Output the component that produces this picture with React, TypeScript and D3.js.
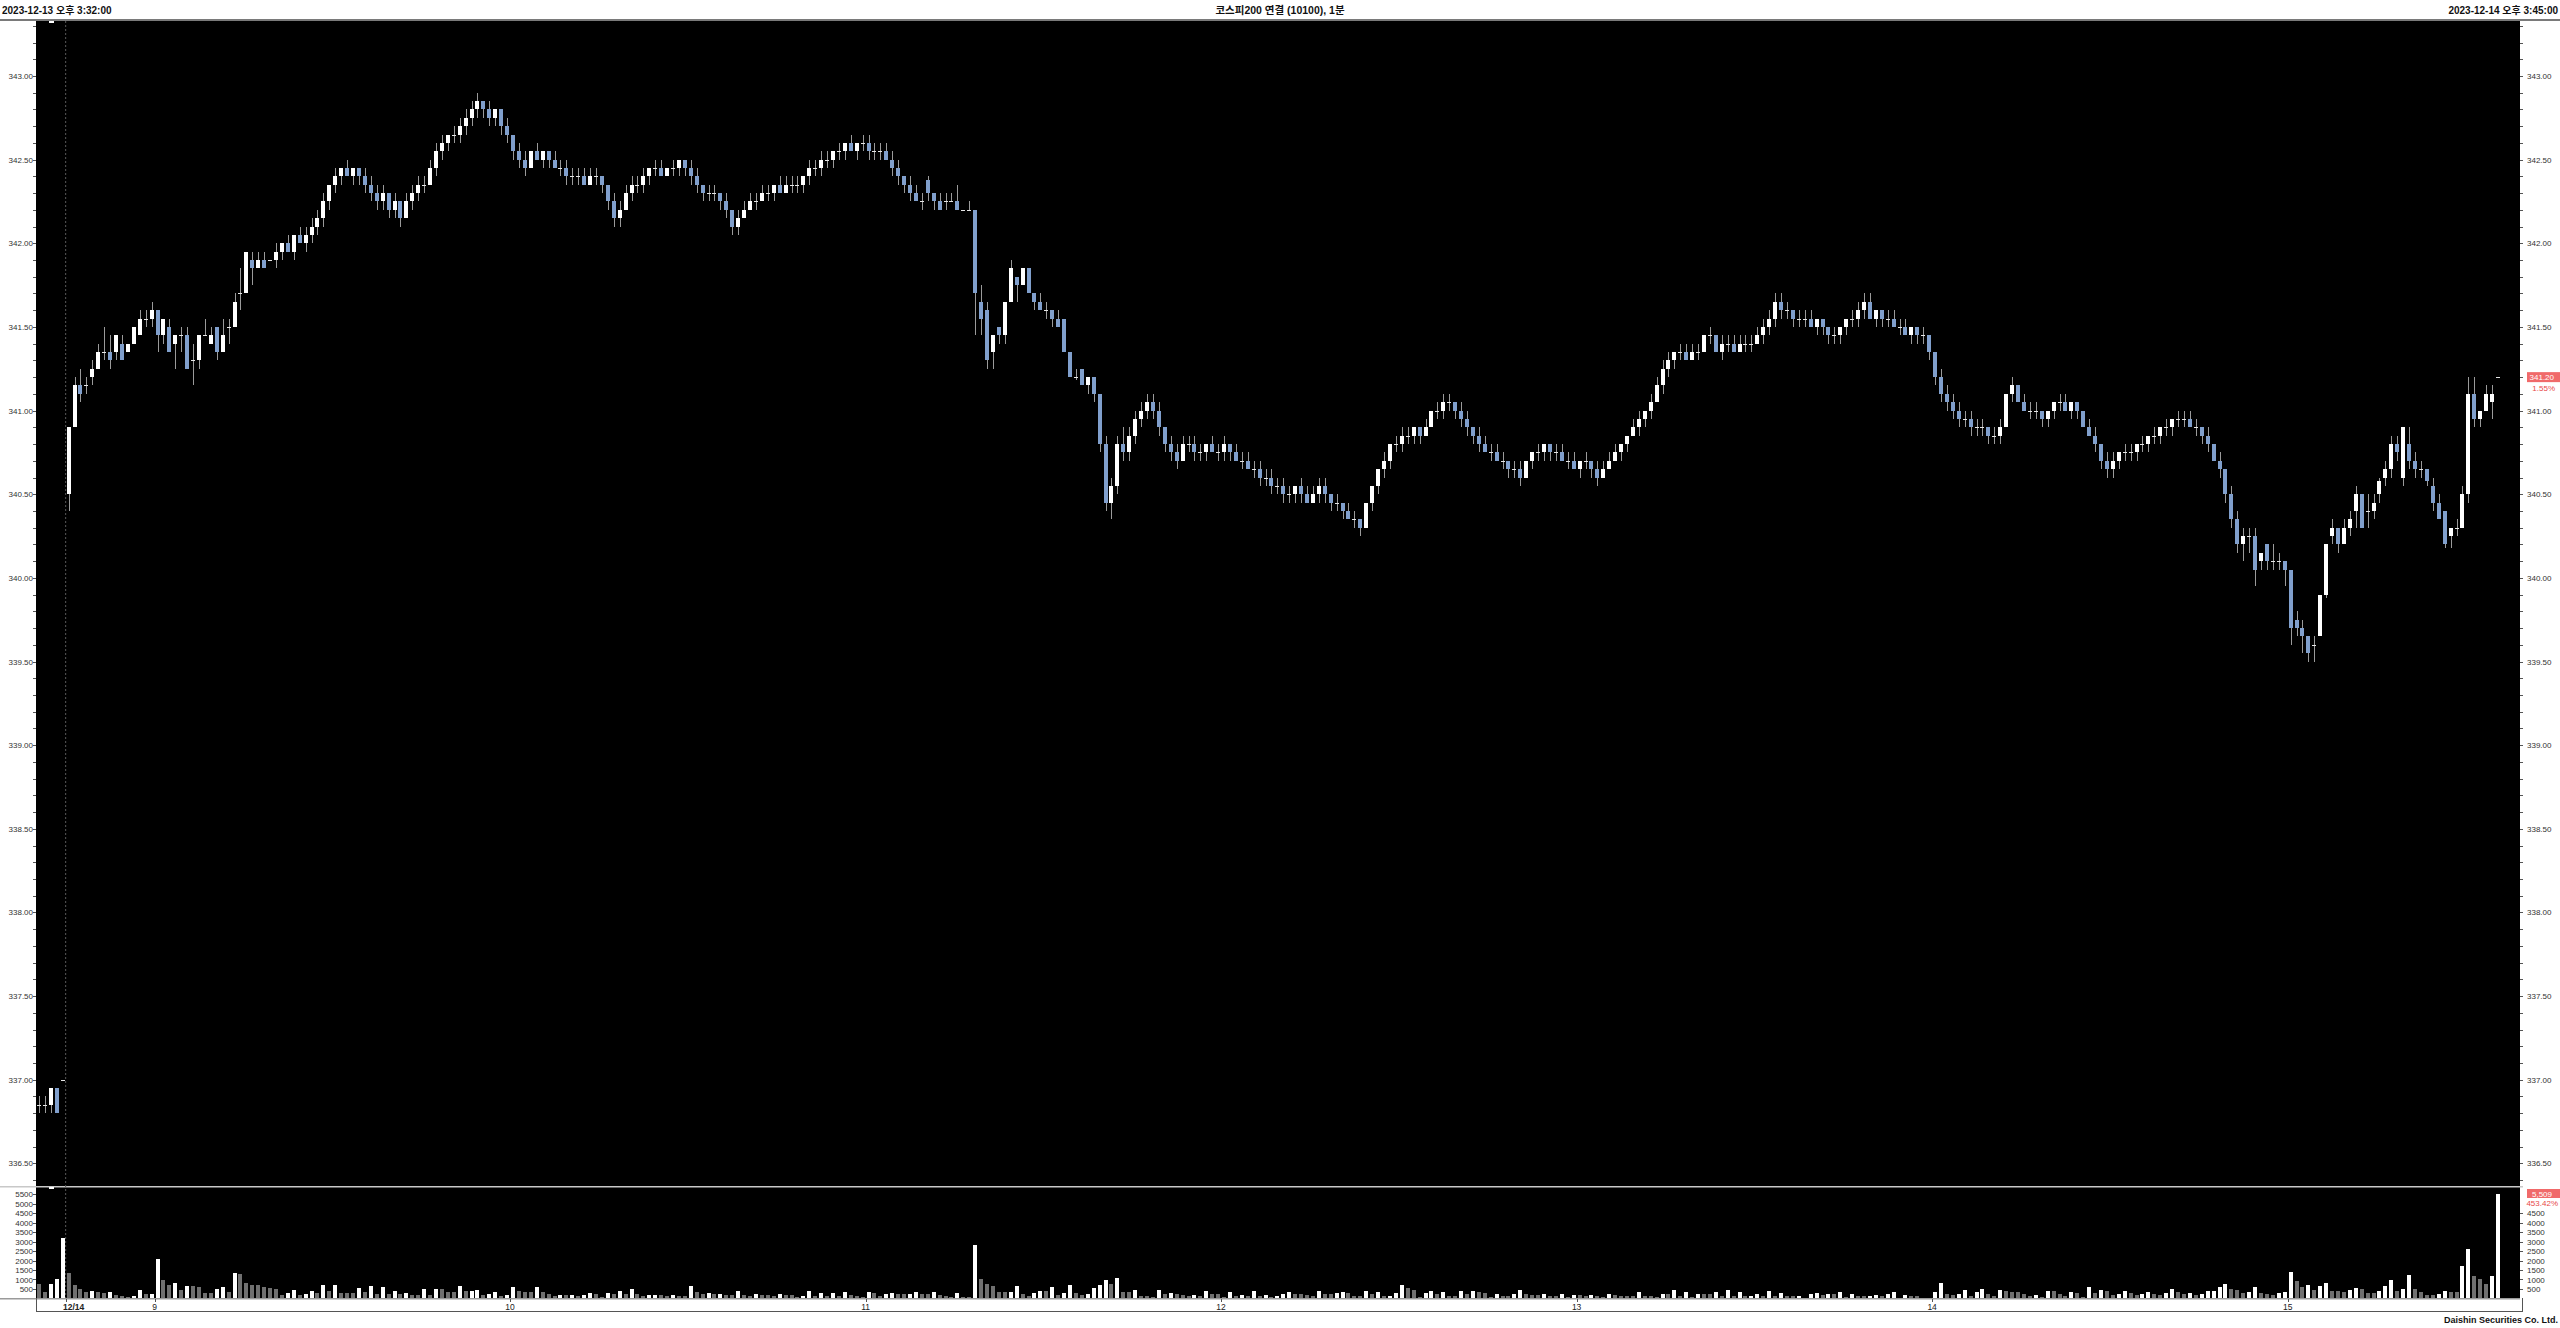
import React from 'react';
import * as d3 from 'd3';

// [open, high, low, close] per 1-minute bar
const candles: number[][] = [
  [336.85,336.90,336.80,336.85],[336.85,336.90,336.80,336.85],[336.85,336.95,336.80,336.95],[336.95,336.95,336.80,336.80],[337.00,337.00,337.00,337.00],
  [340.50,340.90,340.40,340.90],[340.90,341.20,340.90,341.15],[341.15,341.25,341.05,341.10],[341.15,341.20,341.10,341.15],[341.20,341.30,341.15,341.25],
  [341.25,341.40,341.25,341.35],[341.35,341.50,341.30,341.35],[341.35,341.45,341.25,341.30],[341.35,341.45,341.30,341.45],[341.40,341.45,341.30,341.30],
  [341.35,341.40,341.35,341.40],[341.40,341.50,341.40,341.50],[341.45,341.60,341.45,341.55],[341.55,341.60,341.50,341.55],[341.55,341.65,341.50,341.60],
  [341.60,341.60,341.35,341.45],[341.45,341.55,341.40,341.55],[341.50,341.55,341.35,341.35],[341.40,341.45,341.25,341.45],[341.45,341.50,341.35,341.45],
  [341.45,341.50,341.25,341.25],[341.30,341.40,341.15,341.30],[341.30,341.45,341.25,341.45],[341.45,341.55,341.45,341.45],[341.40,341.50,341.40,341.45],
  [341.50,341.50,341.30,341.35],[341.35,341.55,341.35,341.45],[341.50,341.55,341.40,341.50],[341.50,341.70,341.50,341.65],[341.70,341.85,341.60,341.70],
  [341.70,341.95,341.70,341.95],[341.90,341.95,341.75,341.85],[341.85,341.95,341.85,341.90],[341.90,341.95,341.85,341.85],[341.90,341.90,341.90,341.90],
  [341.90,342.00,341.85,341.95],[341.95,342.00,341.90,342.00],[342.00,342.05,341.95,341.95],[341.95,342.05,341.90,342.05],[342.05,342.10,342.00,342.00],
  [342.00,342.10,341.95,342.05],[342.05,342.15,342.00,342.10],[342.10,342.20,342.05,342.15],[342.15,342.30,342.10,342.25],[342.25,342.35,342.20,342.35],
  [342.35,342.45,342.30,342.40],[342.40,342.45,342.35,342.45],[342.45,342.50,342.40,342.40],[342.40,342.45,342.35,342.45],[342.45,342.45,342.35,342.40],
  [342.40,342.45,342.30,342.35],[342.35,342.40,342.25,342.30],[342.30,342.35,342.20,342.25],[342.25,342.35,342.20,342.30],[342.30,342.30,342.15,342.20],
  [342.20,342.30,342.15,342.25],[342.25,342.25,342.10,342.15],[342.15,342.30,342.15,342.25],[342.25,342.35,342.20,342.30],[342.30,342.40,342.25,342.35],
  [342.35,342.40,342.30,342.35],[342.35,342.50,342.35,342.45],[342.45,342.60,342.40,342.55],[342.55,342.65,342.50,342.60],[342.60,342.65,342.55,342.65],
  [342.65,342.70,342.60,342.65],[342.65,342.75,342.60,342.70],[342.70,342.80,342.65,342.75],[342.75,342.85,342.70,342.80],[342.80,342.90,342.75,342.85],
  [342.85,342.85,342.75,342.80],[342.80,342.85,342.70,342.75],[342.75,342.80,342.70,342.80],[342.80,342.80,342.65,342.70],[342.70,342.75,342.60,342.65],
  [342.65,342.65,342.50,342.55],[342.55,342.60,342.45,342.50],[342.50,342.55,342.40,342.45],[342.45,342.55,342.45,342.55],[342.55,342.60,342.50,342.50],
  [342.50,342.55,342.45,342.55],[342.55,342.55,342.45,342.50],[342.50,342.55,342.45,342.45],[342.45,342.50,342.40,342.45],[342.45,342.50,342.35,342.40],
  [342.40,342.45,342.35,342.40],[342.40,342.45,342.35,342.40],[342.40,342.45,342.35,342.35],[342.35,342.45,342.35,342.40],[342.40,342.45,342.35,342.40],
  [342.40,342.40,342.30,342.35],[342.35,342.35,342.20,342.25],[342.25,342.30,342.10,342.15],[342.15,342.25,342.10,342.20],[342.20,342.35,342.20,342.30],
  [342.30,342.40,342.25,342.35],[342.35,342.40,342.30,342.35],[342.35,342.45,342.30,342.40],[342.40,342.45,342.35,342.45],[342.45,342.50,342.40,342.45],
  [342.45,342.50,342.40,342.40],[342.40,342.45,342.40,342.45],[342.45,342.50,342.40,342.45],[342.45,342.50,342.40,342.50],[342.50,342.50,342.40,342.45],
  [342.45,342.50,342.35,342.40],[342.40,342.45,342.30,342.35],[342.35,342.35,342.25,342.30],[342.30,342.35,342.25,342.30],[342.30,342.35,342.25,342.30],
  [342.30,342.30,342.20,342.25],[342.25,342.30,342.15,342.20],[342.20,342.20,342.05,342.10],[342.10,342.20,342.05,342.15],[342.15,342.25,342.15,342.20],
  [342.20,342.30,342.20,342.25],[342.25,342.30,342.20,342.25],[342.25,342.35,342.25,342.30],[342.30,342.35,342.25,342.30],[342.30,342.35,342.25,342.35],
  [342.35,342.40,342.30,342.30],[342.30,342.40,342.30,342.35],[342.35,342.40,342.30,342.35],[342.35,342.40,342.30,342.35],[342.35,342.40,342.30,342.40],
  [342.40,342.50,342.35,342.45],[342.45,342.50,342.40,342.45],[342.45,342.55,342.40,342.50],[342.50,342.55,342.45,342.50],[342.50,342.55,342.45,342.55],
  [342.55,342.60,342.50,342.55],[342.55,342.60,342.50,342.60],[342.60,342.65,342.55,342.55],[342.55,342.60,342.50,342.60],[342.60,342.65,342.55,342.60],
  [342.60,342.65,342.50,342.55],[342.55,342.60,342.50,342.55],[342.55,342.60,342.50,342.55],[342.55,342.60,342.50,342.50],[342.50,342.55,342.40,342.45],
  [342.45,342.50,342.35,342.40],[342.40,342.40,342.30,342.35],[342.35,342.40,342.25,342.30],[342.30,342.35,342.25,342.25],[342.25,342.30,342.20,342.25],
  [342.38,342.40,342.25,342.30],[342.30,342.30,342.20,342.25],[342.25,342.30,342.20,342.20],[342.25,342.30,342.20,342.25],[342.25,342.30,342.25,342.25],
  [342.25,342.35,342.20,342.20],[342.20,342.20,342.20,342.20],[342.20,342.25,342.20,342.20],[342.20,342.20,341.45,341.70],[341.65,341.75,341.45,341.55],
  [341.60,341.65,341.25,341.30],[341.35,341.45,341.25,341.45],[341.50,341.50,341.40,341.45],[341.45,341.65,341.40,341.65],[341.65,341.90,341.65,341.85],
  [341.80,341.80,341.65,341.75],[341.75,341.85,341.75,341.85],[341.85,341.85,341.70,341.70],[341.70,341.70,341.60,341.65],[341.65,341.70,341.60,341.60],
  [341.60,341.65,341.55,341.60],[341.60,341.60,341.50,341.55],[341.55,341.60,341.50,341.50],[341.55,341.55,341.35,341.35],[341.35,341.35,341.20,341.20],
  [341.20,341.25,341.18,341.20],[341.25,341.25,341.15,341.15],[341.15,341.20,341.10,341.20],[341.20,341.20,341.05,341.10],[341.10,341.10,340.75,340.80],
  [340.80,340.85,340.40,340.45],[340.45,340.60,340.35,340.55],[340.55,340.85,340.50,340.80],[340.80,340.90,340.70,340.75],[340.75,340.90,340.70,340.85],
  [340.85,341.00,340.80,340.95],[340.95,341.05,340.90,341.00],[341.00,341.10,340.95,341.05],[341.05,341.10,340.95,341.00],[341.00,341.05,340.85,340.90],
  [340.90,340.90,340.75,340.80],[340.80,340.85,340.70,340.75],[340.75,340.80,340.65,340.70],[340.70,340.85,340.70,340.80],[340.80,340.85,340.75,340.80],
  [340.80,340.85,340.70,340.75],[340.75,340.80,340.70,340.75],[340.75,340.80,340.70,340.80],[340.80,340.85,340.75,340.75],[340.75,340.80,340.70,340.75],
  [340.75,340.85,340.70,340.80],[340.80,340.80,340.70,340.75],[340.75,340.80,340.70,340.70],[340.70,340.75,340.65,340.70],[340.70,340.75,340.65,340.65],
  [340.65,340.70,340.60,340.65],[340.65,340.70,340.55,340.60],[340.60,340.65,340.55,340.60],[340.60,340.65,340.50,340.55],[340.55,340.60,340.50,340.55],
  [340.55,340.60,340.45,340.50],[340.50,340.55,340.45,340.50],[340.50,340.55,340.45,340.55],[340.55,340.60,340.45,340.50],[340.50,340.55,340.45,340.45],
  [340.45,340.55,340.45,340.50],[340.50,340.60,340.45,340.55],[340.55,340.60,340.45,340.50],[340.50,340.50,340.40,340.45],[340.45,340.50,340.40,340.45],
  [340.45,340.45,340.35,340.40],[340.40,340.45,340.35,340.35],[340.35,340.40,340.30,340.35],[340.35,340.35,340.25,340.30],[340.30,340.45,340.30,340.45],
  [340.45,340.55,340.40,340.55],[340.55,340.65,340.50,340.65],[340.65,340.75,340.60,340.70],[340.70,340.80,340.65,340.80],[340.80,340.85,340.75,340.80],
  [340.80,340.90,340.75,340.85],[340.85,340.90,340.80,340.85],[340.85,340.90,340.80,340.90],[340.90,340.90,340.80,340.85],[340.85,340.95,340.85,340.90],
  [340.90,341.00,340.90,341.00],[341.00,341.05,340.95,341.00],[341.00,341.10,340.95,341.05],[341.05,341.10,341.00,341.05],[341.05,341.05,340.95,341.00],
  [341.00,341.05,340.90,340.95],[340.95,341.00,340.85,340.90],[340.90,340.90,340.80,340.85],[340.85,340.90,340.75,340.80],[340.80,340.85,340.75,340.75],
  [340.75,340.80,340.70,340.75],[340.75,340.80,340.70,340.70],[340.70,340.75,340.65,340.70],[340.70,340.70,340.60,340.65],[340.65,340.70,340.60,340.65],
  [340.65,340.70,340.55,340.60],[340.60,340.70,340.60,340.70],[340.70,340.75,340.65,340.75],[340.75,340.80,340.70,340.75],[340.75,340.80,340.70,340.80],
  [340.80,340.80,340.70,340.75],[340.75,340.80,340.70,340.75],[340.75,340.80,340.70,340.70],[340.70,340.75,340.65,340.70],[340.70,340.75,340.65,340.65],
  [340.65,340.70,340.60,340.70],[340.70,340.75,340.65,340.70],[340.70,340.70,340.60,340.65],[340.65,340.70,340.55,340.60],[340.60,340.70,340.60,340.65],
  [340.65,340.75,340.65,340.70],[340.70,340.80,340.70,340.75],[340.75,340.80,340.70,340.80],[340.80,340.85,340.75,340.85],[340.85,340.95,340.85,340.90],
  [340.90,341.00,340.85,340.95],[340.95,341.00,340.90,341.00],[341.00,341.10,340.95,341.05],[341.05,341.20,341.05,341.15],[341.15,341.30,341.10,341.25],
  [341.25,341.35,341.20,341.30],[341.30,341.35,341.25,341.35],[341.35,341.40,341.30,341.35],[341.35,341.40,341.30,341.30],[341.30,341.40,341.30,341.35],
  [341.35,341.40,341.30,341.35],[341.35,341.45,341.35,341.45],[341.45,341.50,341.40,341.45],[341.45,341.45,341.35,341.35],[341.35,341.45,341.30,341.40],
  [341.40,341.45,341.35,341.40],[341.40,341.45,341.35,341.35],[341.35,341.45,341.35,341.40],[341.40,341.45,341.35,341.40],[341.40,341.45,341.35,341.40],
  [341.40,341.50,341.40,341.45],[341.45,341.55,341.40,341.50],[341.50,341.60,341.45,341.55],[341.55,341.70,341.50,341.65],[341.65,341.70,341.55,341.60],
  [341.60,341.65,341.55,341.60],[341.60,341.60,341.50,341.55],[341.55,341.60,341.50,341.55],[341.55,341.60,341.50,341.55],[341.55,341.60,341.50,341.50],
  [341.50,341.55,341.45,341.55],[341.55,341.55,341.45,341.50],[341.50,341.50,341.40,341.45],[341.45,341.50,341.40,341.45],[341.45,341.50,341.40,341.50],
  [341.50,341.55,341.45,341.55],[341.55,341.60,341.50,341.55],[341.55,341.65,341.50,341.60],[341.60,341.70,341.55,341.65],[341.65,341.70,341.55,341.55],
  [341.55,341.60,341.50,341.60],[341.60,341.60,341.50,341.55],[341.55,341.60,341.50,341.55],[341.55,341.60,341.50,341.50],[341.50,341.55,341.45,341.50],
  [341.50,341.55,341.45,341.45],[341.45,341.50,341.40,341.50],[341.50,341.50,341.40,341.45],[341.45,341.50,341.40,341.45],[341.45,341.45,341.30,341.35],
  [341.35,341.35,341.15,341.20],[341.20,341.25,341.05,341.10],[341.10,341.15,341.00,341.05],[341.05,341.10,340.95,341.00],[341.00,341.05,340.90,340.95],
  [340.95,341.00,340.90,340.95],[340.95,341.00,340.85,340.90],[340.90,340.95,340.85,340.90],[340.90,340.95,340.85,340.90],[340.90,340.90,340.80,340.85],
  [340.85,340.90,340.80,340.85],[340.85,340.95,340.80,340.90],[340.90,341.10,340.90,341.10],[341.10,341.20,341.05,341.15],[341.15,341.15,341.05,341.05],
  [341.05,341.10,341.00,341.00],[341.00,341.05,340.95,341.00],[341.00,341.05,340.95,341.00],[341.00,341.00,340.90,340.95],[340.95,341.00,340.90,341.00],
  [341.00,341.05,340.95,341.05],[341.05,341.10,341.00,341.05],[341.05,341.10,341.00,341.00],[341.00,341.05,340.95,341.05],[341.05,341.05,340.95,341.00],
  [341.00,341.00,340.90,340.90],[340.90,340.95,340.85,340.85],[340.85,340.90,340.75,340.80],[340.80,340.80,340.65,340.70],[340.70,340.75,340.60,340.65],
  [340.65,340.75,340.60,340.70],[340.70,340.75,340.65,340.75],[340.75,340.80,340.70,340.75],[340.75,340.80,340.70,340.75],[340.75,340.80,340.70,340.80],
  [340.80,340.85,340.75,340.80],[340.80,340.85,340.75,340.85],[340.85,340.90,340.80,340.85],[340.85,340.90,340.80,340.90],[340.90,340.95,340.85,340.90],
  [340.90,340.95,340.85,340.95],[340.95,341.00,340.90,340.95],[340.95,341.00,340.90,340.95],[340.95,341.00,340.90,340.90],[340.90,340.95,340.85,340.90],
  [340.90,340.90,340.80,340.85],[340.85,340.90,340.75,340.80],[340.80,340.80,340.70,340.70],[340.70,340.75,340.60,340.65],[340.65,340.65,340.45,340.50],
  [340.50,340.55,340.30,340.35],[340.35,340.40,340.15,340.20],[340.20,340.30,340.10,340.25],[340.25,340.30,340.15,340.25],[340.25,340.30,339.95,340.05],
  [340.10,340.15,340.05,340.15],[340.20,340.20,340.05,340.10],[340.10,340.20,340.05,340.10],[340.10,340.15,340.05,340.10],[340.10,340.10,339.95,340.05],
  [340.05,340.05,339.60,339.70],[339.75,339.80,339.65,339.70],[339.70,339.75,339.55,339.65],[339.65,339.65,339.50,339.55],[339.60,339.65,339.50,339.60],
  [339.65,339.90,339.65,339.90],[339.90,340.20,339.88,340.20],[340.25,340.35,340.20,340.30],[340.30,340.30,340.15,340.20],[340.20,340.35,340.20,340.30],
  [340.30,340.40,340.25,340.35],[340.40,340.55,340.30,340.50],[340.50,340.50,340.30,340.30],[340.40,340.50,340.30,340.40],[340.40,340.50,340.35,340.45],
  [340.50,340.60,340.45,340.58],[340.60,340.70,340.55,340.65],[340.65,340.85,340.60,340.80],[340.80,340.85,340.70,340.75],[340.60,340.90,340.55,340.90],
  [340.80,340.90,340.65,340.70],[340.70,340.75,340.60,340.65],[340.65,340.70,340.60,340.65],[340.65,340.65,340.55,340.58],[340.55,340.60,340.40,340.45],
  [340.45,340.50,340.35,340.35],[340.40,340.40,340.18,340.20],[340.25,340.30,340.18,340.30],[340.30,340.35,340.25,340.30],[340.30,340.55,340.30,340.50],
  [340.50,341.20,340.45,341.10],[341.10,341.20,340.90,340.95],[340.95,341.00,340.90,341.00],[341.00,341.15,341.00,341.10],[341.05,341.15,340.95,341.10],
  [341.20,341.20,341.20,341.20],
];

const volumes: number[] = [
  760,350,760,1050,3180,1330,700,500,350,400,330,290,330,170,120,100,130,430,240,260,
  2080,950,730,800,430,650,650,630,280,280,480,630,350,1340,1300,820,
  720,690,580,540,500,200,300,440,180,230,380,300,720,380,720,300,300,300,570,350,640,230,620,230,420,230,280,170,170,500,200,500,500,360,360,680,380,420,450,200,250,350,150,190,580,420,320,320,580,320,240,110,200,200,210,120,
  175,315,245,90,315,245,420,230,525,230,140,175,210,175,120,190,140,120,650,350,245,280,230,245,175,175,400,190,140,245,190,190,120,245,190,175,90,140,420,140,280,140,280,120,350,175,140,90,350,280,120,245,280,245,245,260,350,245,245,350,190,120,90,315,90,90,
  2825,1020,755,665,350,333,350,650,230,120,300,420,420,600,190,300,720,300,210,230,560,720,980,770,1090,333,333,440,120,120,90,455,245,300,230,175,140,190,140,400,245,245,105,333,120,175,140,400,120,190,90,140,245,350,245,245,190,140,400,245,245,315,
  350,280,140,140,420,245,333,120,140,280,685,545,455,90,280,420,245,333,140,140,400,245,400,350,315,90,230,120,120,230,455,245,190,190,245,140,140,230,90,175,175,140,190,120,90,230,190,140,140,140,350,140,120,90,245,245,455,140,333,90,230,230,230,350,120,440,120,350,120,140,230,140,400,120,300,120,120,140,50,230,300,210,245,245,350,70,245,120,120,140,190,140,245,350,50,190,120,120,50,35,350,805,245,190,245,455,120,333,510,245,120,455,400,333,333,245,120,190,90,400,400,245,140,333,300,90,630,
  300,450,380,200,250,420,300,180,220,350,260,200,300,480,350,220,300,180,250,380,420,600,750,520,450,300,350,620,300,250,200,280,350,1400,900,620,700,450,650,800,420,380,350,450,550,500,300,280,400,650,1000,420,
  510,1245,475,333,210,193,263,370,333,333,1700,2615,1160,1020,755,1210,5509,
];

const priceTicks = [336.5, 337, 337.5, 338, 338.5, 339, 339.5, 340, 340.5, 341, 341.5, 342, 342.5, 343];
const volumeTicks = [500, 1000, 1500, 2000, 2500, 3000, 3500, 4000, 4500, 5000, 5500];
const volumeTicksRight = [500, 1000, 1500, 2000, 2500, 3000, 3500, 4000, 4500];
const timeLabels = ['12/14', '9', '10', '11', '12', '13', '14', '15'];
const timeLabelIdx = [5, 20, 80, 140, 200, 260, 320, 380];
const headerLeft = '2023-12-13 오후 3:32:00';
const headerTitle = '코스피200 연결 (10100), 1분';
const headerRight = '2023-12-14 오후 3:45:00';
const lastPrice = '341.20';
const lastPct = '1.55%';
const lastVol = '5,509';
const lastVolPct = '453.42%';

const PL = 36, PR = 2520, PT = 20, PB = 1186, VB = 1298;
const UP = '#ffffff', DOWN = '#809fcc', WICK = '#9a9a9a', VGRAY = '#707070';
const FONT = '"Liberation Sans", Arial, "Noto Sans CJK KR", sans-serif';

export default function App() {
  const x = d3.scaleLinear().domain([0, candles.length - 1]).range([39, 2498]);
  const y = d3.scaleLinear().domain([336.5, 343]).range([1163.4, 76]);
  const yv = d3.scaleLinear().domain([0, 5500]).range([1298.5, 1194]);
  const minorTicks = d3.range(3364, 3434).map((v) => v / 10).filter((v) => y(v) > PT + 1 && y(v) < PB - 1);
  const boundary = (i: number) => (x(i) + x(i - 1)) / 2;

  return (
    <svg width={2560} height={1328} style={{ position: 'absolute', left: 0, top: 0, background: '#fff' }} fontFamily={FONT}>
      <rect x={0} y={0} width={2560} height={1328} fill="#fff" />
      {/* header */}
      <text x={2} y={14} fontSize={10} fontWeight="bold" fill="#111">{headerLeft}</text>
      <text x={1280} y={14} fontSize={10.5} fontWeight="bold" fill="#111" textAnchor="middle">{headerTitle}</text>
      <text x={2558} y={14} fontSize={10} fontWeight="bold" fill="#111" textAnchor="end">{headerRight}</text>
      <rect x={0} y={19} width={2560} height={2} fill="#7a7a7a" />
      {/* plot background */}
      <rect x={PL} y={21} width={PR - PL} height={VB - 21} fill="#000" />
      {/* divider */}
      <rect x={0} y={PB} width={PR + 3} height={1.5} fill="#c8c8c8" />
      {/* 12/14 day separator */}
      <line x1={boundary(5)} x2={boundary(5)} y1={21} y2={VB} stroke="#5a5a5a" strokeDasharray="2,2" />

      {/* left price axis */}
      {minorTicks.map((v, i) => (
        <g key={'mt' + i}>
          <line x1={PL - 3} x2={PL} y1={Math.round(y(v)) + 0.5} y2={Math.round(y(v)) + 0.5} stroke="#555" />
          <line x1={PR} x2={PR + 3} y1={Math.round(y(v)) + 0.5} y2={Math.round(y(v)) + 0.5} stroke="#555" />
        </g>
      ))}
      {priceTicks.map((v) => (
        <g key={'pt' + v}>
          <text x={PL - 3} y={y(v) + 3} fontSize={8} fill="#333" textAnchor="end">{v.toFixed(2)}</text>
          {v.toFixed(2) !== lastPrice && (
            <text x={PR + 7} y={y(v) + 3} fontSize={8} fill="#333">{v.toFixed(2)}</text>
          )}
        </g>
      ))}

      {/* volume axis */}
      {volumeTicks.map((v) => (
        <g key={'vt' + v}>
          <line x1={PL - 3} x2={PL} y1={Math.round(yv(v)) + 0.5} y2={Math.round(yv(v)) + 0.5} stroke="#555" />
          <text x={PL - 3} y={yv(v) + 3} fontSize={8} fill="#333" textAnchor="end">{v}</text>
        </g>
      ))}
      {volumeTicksRight.map((v) => (
        <g key={'vr' + v}>
          <line x1={PR} x2={PR + 3} y1={Math.round(yv(v)) + 0.5} y2={Math.round(yv(v)) + 0.5} stroke="#555" />
          <text x={PR + 7} y={yv(v) + 3} fontSize={8} fill="#333">{v}</text>
        </g>
      ))}

      {/* volume bars */}
      <g shapeRendering="crispEdges">
        {volumes.map((v, i) => {
          const cx = Math.round(x(i));
          const top = yv(v);
          const up = i > 0 && v > volumes[i - 1];
          return <rect key={'v' + i} x={cx - 2} y={top} width={4} height={yv(0) - top} fill={up ? UP : VGRAY} />;
        })}
      </g>

      {/* candles */}
      <g shapeRendering="crispEdges">
        {candles.map((c, i) => {
          const [o, h, l, cl] = c;
          const cx = Math.round(x(i));
          const yo = y(o), yc = y(cl), yh = y(h), yl = y(l);
          const top = Math.min(yo, yc), bot = Math.max(yo, yc);
          const doji = Math.abs(o - cl) < 1e-6;
          return (
            <g key={'c' + i}>
              {h > l && <rect x={cx} y={yh} width={1} height={Math.max(1, yl - yh)} fill={WICK} />}
              {doji ? (
                <rect x={cx - 2} y={Math.round(yo)} width={4} height={1} fill="#e6e6e6" />
              ) : (
                <rect x={cx - 2} y={top} width={4} height={Math.max(1, bot - top)} fill={cl > o ? UP : DOWN} />
              )}
            </g>
          );
        })}
      </g>

      {/* small range markers */}
      <rect x={49} y={21} width={5} height={2} fill="#fff" />
      <rect x={49} y={PB + 1} width={5} height={2} fill="#fff" />

      {/* last price labels */}
      <rect x={2527} y={y(341.2) - 5} width={33} height={10} fill="#f06a6a" />
      <text x={2554} y={y(341.2) + 3} fontSize={8} fill="#fff" textAnchor="end">{lastPrice}</text>
      <text x={2555} y={y(341.2) + 14} fontSize={8} fill="#e84848" textAnchor="end">{lastPct}</text>
      <rect x={2527} y={1189} width={33} height={9} fill="#f06a6a" />
      <text x={2552} y={1196.5} fontSize={8} fill="#fff" textAnchor="end">{lastVol}</text>
      <text x={2558} y={1206} fontSize={8} fill="#e84848" textAnchor="end">{lastVolPct}</text>

      {/* bottom axis */}
      <rect x={0} y={VB} width={PR} height={1.5} fill="#9a9a9a" />
      <line x1={PL + 0.5} x2={PL + 0.5} y1={VB} y2={1311} stroke="#555" />
      <line x1={PR + 2.5} x2={PR + 2.5} y1={VB} y2={1311} stroke="#555" />
      <line x1={PL} x2={PR + 3} y1={1311.5} y2={1311.5} stroke="#555" />
      {timeLabels.map((t, k) => {
        const bx = boundary(timeLabelIdx[k]);
        return (
          <g key={'tl' + k}>
            <line x1={Math.round(bx) + 0.5} x2={Math.round(bx) + 0.5} y1={VB + 1} y2={VB + 4} stroke="#555" />
            <text x={k === 0 ? bx + 8 : bx} y={1309.5} fontSize={8.5} fill="#222" fontWeight={k === 0 ? 'bold' : 'normal'} textAnchor="middle">{t}</text>
          </g>
        );
      })}
      <text x={2558} y={1323} fontSize={9} fontWeight="bold" fill="#111" textAnchor="end">Daishin Securities Co. Ltd.</text>
    </svg>
  );
}
